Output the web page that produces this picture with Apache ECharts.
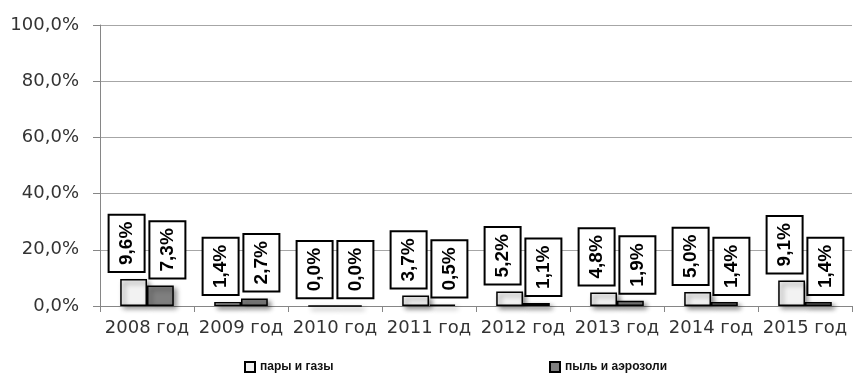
<!DOCTYPE html>
<html>
<head>
<meta charset="utf-8">
<script src="https://cdn.jsdelivr.net/npm/echarts@6/dist/echarts.min.js"></script>
<style>html,body{margin:0;padding:0;background:#fff;}#c{width:854px;height:378px;}</style>
</head>
<body>
<div id="c"></div>
<script>
const categories = ['2008 год','2009 год','2010 год','2011 год','2012 год','2013 год','2014 год','2015 год'];
const seriesNames = ['пары и газы','пыль и аэрозоли'];
const gases = [9.6, 1.4, 0.0, 3.7, 5.2, 4.8, 5.0, 9.1];
const dust = [7.3, 2.7, 0.0, 0.5, 1.1, 1.9, 1.4, 1.4];
const yTicks = [0, 20, 40, 60, 80, 100];

const fmt = v => v.toFixed(1).replace('.', ',') + '%';

function makeLabel(dx) {
  return {
    show: true,
    position: 'top',
    distance: 8,
    rotate: 90,
    align: 'left',
    verticalAlign: 'middle',
    offset: [0, dx],
    formatter: p => fmt(p.value),
    fontFamily: 'Liberation Sans',
    fontWeight: 'bold',
    fontSize: 19,
    lineHeight: 20,
    color: '#000',
    backgroundColor: '#fff',
    borderColor: '#000',
    borderWidth: 2,
    padding: [7, 6, 7, 6]
  };
}

const shadow = {shadowColor: 'rgba(0,0,0,0.45)', shadowBlur: 5, shadowOffsetX: 3, shadowOffsetY: 3};
const legendText = {fontFamily: 'Liberation Sans', fontWeight: 'bold', fontSize: 12, color: '#111'};

const chart = echarts.init(document.getElementById('c'), null, {renderer: 'canvas'});
chart.setOption({
  animation: false,
  backgroundColor: '#fff',
  grid: {left: 100, right: 2, top: 25, bottom: 72, containLabel: false},
  legend: [
    {data: [{name: seriesNames[0], icon: 'rect'}], left: 244, top: 361, padding: 0, itemWidth: 10, itemHeight: 10, itemGap: 4, textStyle: legendText},
    {data: [{name: seriesNames[1], icon: 'rect'}], left: 549, top: 361, padding: 0, itemWidth: 10, itemHeight: 10, itemGap: 4, textStyle: legendText}
  ],
  xAxis: {
    type: 'category',
    data: categories,
    axisLine: {lineStyle: {color: '#868686', width: 1}},
    axisTick: {show: true, length: 6, lineStyle: {color: '#868686'}},
    axisLabel: {interval: 0, margin: 13, fontFamily: 'DejaVu Sans', fontSize: 18, color: '#333'}
  },
  yAxis: {
    type: 'value',
    min: yTicks[0],
    max: yTicks[yTicks.length - 1],
    interval: 20,
    axisLine: {show: true, lineStyle: {color: '#868686', width: 1}},
    axisTick: {show: true, length: 7, lineStyle: {color: '#868686'}},
    splitLine: {lineStyle: {color: '#a6a6a6', width: 1}},
    axisLabel: {margin: 21, fontFamily: 'DejaVu Sans', fontSize: 18, color: '#333', formatter: v => fmt(v)}
  },
  series: [
    {
      name: seriesNames[0], type: 'bar', data: gases,
      barGap: '0%', barCategoryGap: '43%',
      itemStyle: Object.assign({color: '#f2f2f2', borderColor: '#000', borderWidth: 1.5}, shadow),
      label: makeLabel(-7)
    },
    {
      name: seriesNames[1], type: 'bar', data: dust,
      barGap: '0%', barCategoryGap: '43%',
      itemStyle: Object.assign({color: '#7f7f7f', borderColor: '#000', borderWidth: 1.5}, shadow),
      label: makeLabel(7)
    }
  ]
});
</script>
</body>
</html>
